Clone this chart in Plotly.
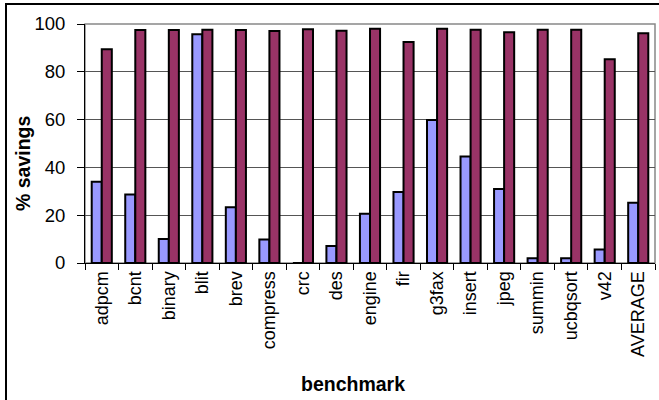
import plotly.graph_objects as go

categories = ["adpcm", "bcnt", "binary", "blit", "brev", "compress", "crc", "des",
              "engine", "fir", "g3fax", "insert", "jpeg", "summin", "ucbqsort",
              "v42", "AVERAGE"]
series_a = [34, 28.7, 10, 95.7, 23.3, 9.8, 0, 7.1, 20.6, 29.7, 59.8, 44.6, 31,
            2, 2, 5.7, 25.2]
series_b = [89.4, 97.5, 97.5, 97.6, 97.5, 97.1, 97.8, 97.2, 98, 92.5, 98, 97.6,
            96.5, 97.6, 97.6, 85.2, 96.1]
y_ticks = [0, 20, 40, 60, 80, 100]

FONT = "Liberation Sans, Arial, sans-serif"
W, H = 659, 400
L, R, T, B = 85, 4, 24, 137
pw, ph = W - L - R, H - T - B

def px_x(x):
    return (x - L) / pw

def px_y(y):
    return (H - B - y) / ph

fig = go.Figure()
fig.add_trace(go.Bar(x=categories, y=series_a, name="a",
                     marker=dict(color="#9999FF", line=dict(color="black", width=2))))
fig.add_trace(go.Bar(x=categories, y=series_b, name="b",
                     marker=dict(color="#993366", line=dict(color="black", width=2))))

fig.update_layout(
    width=W, height=H,
    margin=dict(l=L, r=R, t=T, b=B, pad=0),
    paper_bgcolor="white", plot_bgcolor="white",
    showlegend=False,
    barmode="group", bargap=0.4, bargroupgap=0,
    font=dict(family=FONT, size=18, color="black"),
)
fig.update_xaxes(
    type="category", tickson="boundaries", ticks="outside", ticklen=6,
    tickcolor="black", tickwidth=1, showline=True, linecolor="black", linewidth=1,
    showgrid=False, tickangle=-90, ticklabelstandoff=0,
    tickfont=dict(family=FONT, size=18, color="black"),
)
fig.update_yaxes(
    range=[0, 100], tickvals=y_ticks, ticks="outside", ticklen=7,
    tickcolor="black", tickwidth=1, showline=True, linecolor="black", linewidth=1,
    showgrid=True, gridcolor="#555555", gridwidth=1, zeroline=False,
    ticklabelstandoff=8,
    tickfont=dict(family=FONT, size=18.5, color="black"),
)

# plot area border (gray) and outer chart frame (black)
fig.add_shape(type="rect", xref="paper", yref="paper", x0=0, x1=1, y0=0, y1=1,
              line=dict(color="#888888", width=1.5), layer="below")
fig.add_shape(type="rect", xref="paper", yref="paper",
              x0=px_x(6), x1=px_x(665), y0=px_y(405), y1=px_y(4),
              line=dict(color="black", width=2))

fig.add_annotation(text="<b>% savings</b>", xref="paper", yref="paper",
                   x=px_x(23), y=px_y(163), textangle=-90, showarrow=False,
                   xanchor="center", yanchor="middle",
                   font=dict(family=FONT, size=19.5, color="black"))
fig.add_annotation(text="<b>benchmark</b>", xref="paper", yref="paper",
                   x=px_x(353), y=px_y(384), showarrow=False,
                   xanchor="center", yanchor="middle",
                   font=dict(family=FONT, size=19.5, color="black"))

fig.write_html("out.html", config={"displayModeBar": False},
               post_script="document.body.style.margin='0';document.body.style.overflow='hidden';")
